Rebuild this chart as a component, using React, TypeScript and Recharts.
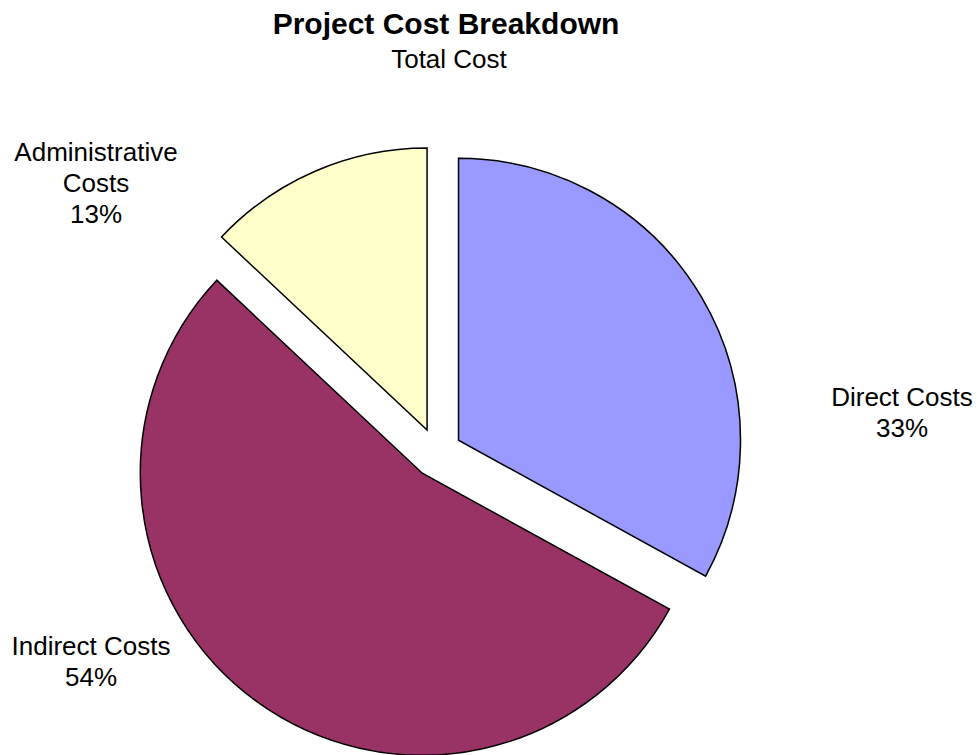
import React from 'react';
import { PieChart, Pie, Cell } from 'recharts';

const categories = ['Direct Costs', 'Indirect Costs', 'Administrative Costs'];
const shares = [33, 54, 13];
const colors = ['#9999FF', '#993366', '#FFFFCC'];
// label lines as Excel wrapped them
const labelLines = [['Direct Costs'], ['Indirect Costs'], ['Administrative', 'Costs']];

const data = categories.map((name, i) => ({ name, value: shares[i] }));
const total = shares.reduce((a, b) => a + b, 0);

// layout
const W = 980;
const H = 755;
const CX = 437;
const CY = 453;
const R = 282;
const EXPLODE = 25;
const labelPos = [
  { x: 902, y: 406 },
  { x: 91, y: 655 },
  { x: 96, y: 161 },
];
const font = '"Liberation Sans", Arial, sans-serif';

const midAngle = (i: number) => {
  const before = shares.slice(0, i).reduce((a, b) => a + b, 0);
  return 90 - (360 * (before + shares[i] / 2)) / total;
};

const makeLabel = (idx: number) => (props: any) => {
  if (props.index !== idx) return null;
  const lines = [...labelLines[idx], `${Math.round((props.value / total) * 100)}%`];
  const p = labelPos[idx];
  return (
    <text x={p.x} y={p.y} textAnchor="middle" fontFamily={font} fontSize={26} fill="#000">
      {lines.map((l, k) => (
        <tspan key={k} x={p.x} dy={k === 0 ? 0 : 31}>
          {l}
        </tspan>
      ))}
    </text>
  );
};

const App: React.FC = () => {
  return (
    <div style={{ position: 'absolute', left: 0, top: 0, width: W, height: H, background: '#fff' }}>
      <div
        style={{
          position: 'absolute',
          left: 0,
          width: 892,
          top: 9,
          textAlign: 'center',
          fontFamily: font,
          fontWeight: 'bold',
          fontSize: 30,
          lineHeight: '30px',
        }}
      >
        Project Cost Breakdown
      </div>
      <div
        style={{
          position: 'absolute',
          left: 0,
          width: 898,
          top: 44,
          textAlign: 'center',
          fontFamily: font,
          fontSize: 26,
          lineHeight: '30px',
        }}
      >
        Total Cost
      </div>
      <PieChart width={W} height={H} margin={{ top: 0, right: 0, bottom: 0, left: 0 }}>
        {shares.map((_, i) => {
          const a = (midAngle(i) * Math.PI) / 180;
          return (
            <Pie
              key={i}
              data={data}
              dataKey="value"
              nameKey="name"
              cx={CX + EXPLODE * Math.cos(a)}
              cy={CY - EXPLODE * Math.sin(a)}
              outerRadius={R}
              startAngle={90}
              endAngle={-270}
              isAnimationActive={false}
              labelLine={false}
              label={makeLabel(i)}
            >
              {data.map((d, j) => (
                <Cell
                  key={d.name}
                  fill={j === i ? colors[j] : 'none'}
                  stroke={j === i ? '#000' : 'none'}
                  strokeWidth={1.5}
                />
              ))}
            </Pie>
          );
        })}
      </PieChart>
    </div>
  );
};

export default App;
